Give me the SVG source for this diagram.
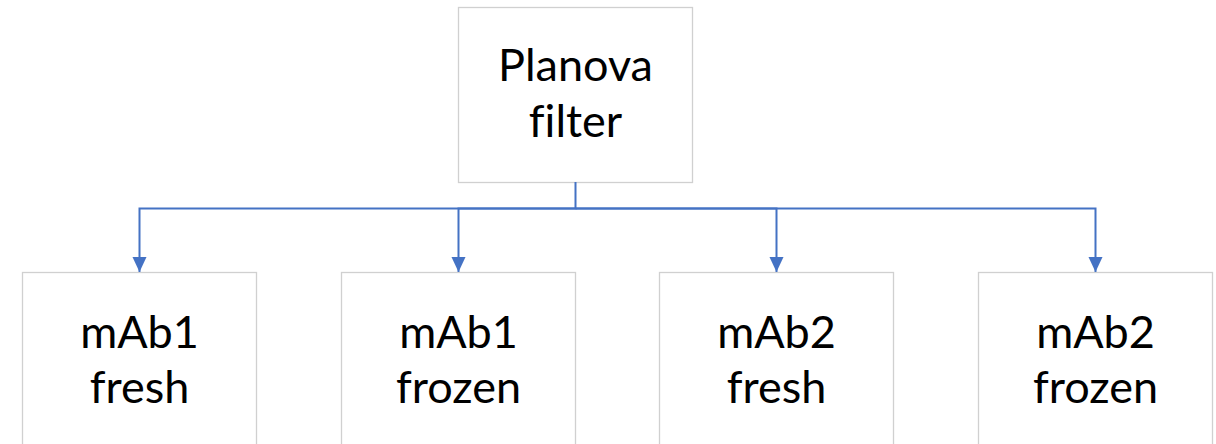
<svg xmlns="http://www.w3.org/2000/svg" width="1216" height="444" viewBox="0 0 1216 444">
<style>
.box{fill:#ffffff;stroke:#d0d0d0;stroke-width:1.3}
.lbl{font-family:Lato,"Open Sans","Liberation Sans",sans-serif;font-size:45px;fill:#000;text-anchor:middle;font-variant-ligatures:none;font-feature-settings:"liga" 0}
.con{fill:none;stroke:#4472c4;stroke-width:2}
</style>
<defs>
<marker id="arr" markerUnits="userSpaceOnUse" markerWidth="16" markerHeight="16" viewBox="0 0 16 16" refX="15" refY="8" orient="auto">
<path d="M0,1 L15,8 L0,15 Z" fill="#4472c4"/>
</marker>
</defs>
<rect width="1216" height="444" fill="#ffffff"/>
<g id="n0"><rect class="box" x="458.5" y="7.5" width="234" height="175"/><text class="lbl" x="575.5" y="81">Planova</text><text class="lbl" x="575.5" y="137">filter</text></g>
<g id="n1"><rect class="box" x="22.5" y="272.5" width="234" height="200"/><text class="lbl" x="139.5" y="348">mAb1</text><text class="lbl" x="139.5" y="403">fresh</text></g>
<g id="n2"><rect class="box" x="341.5" y="272.5" width="234" height="200"/><text class="lbl" x="458.5" y="348">mAb1</text><text class="lbl" x="458.5" y="403">frozen</text></g>
<g id="n3"><rect class="box" x="659.5" y="272.5" width="234" height="200"/><text class="lbl" x="776.5" y="348">mAb2</text><text class="lbl" x="776.5" y="403">fresh</text></g>
<g id="n4"><rect class="box" x="978.5" y="272.5" width="234" height="200"/><text class="lbl" x="1095.5" y="348">mAb2</text><text class="lbl" x="1095.5" y="403">frozen</text></g>
<g id="connectors">
<path class="con" d="M575.5,182 V208.5 H139.5 V272" marker-end="url(#arr)"/>
<path class="con" d="M575.5,208.5 H458.5 V272" marker-end="url(#arr)"/>
<path class="con" d="M575.5,208.5 H776.5 V272" marker-end="url(#arr)"/>
<path class="con" d="M575.5,208.5 H1095.5 V272" marker-end="url(#arr)"/>
</g>
</svg>
